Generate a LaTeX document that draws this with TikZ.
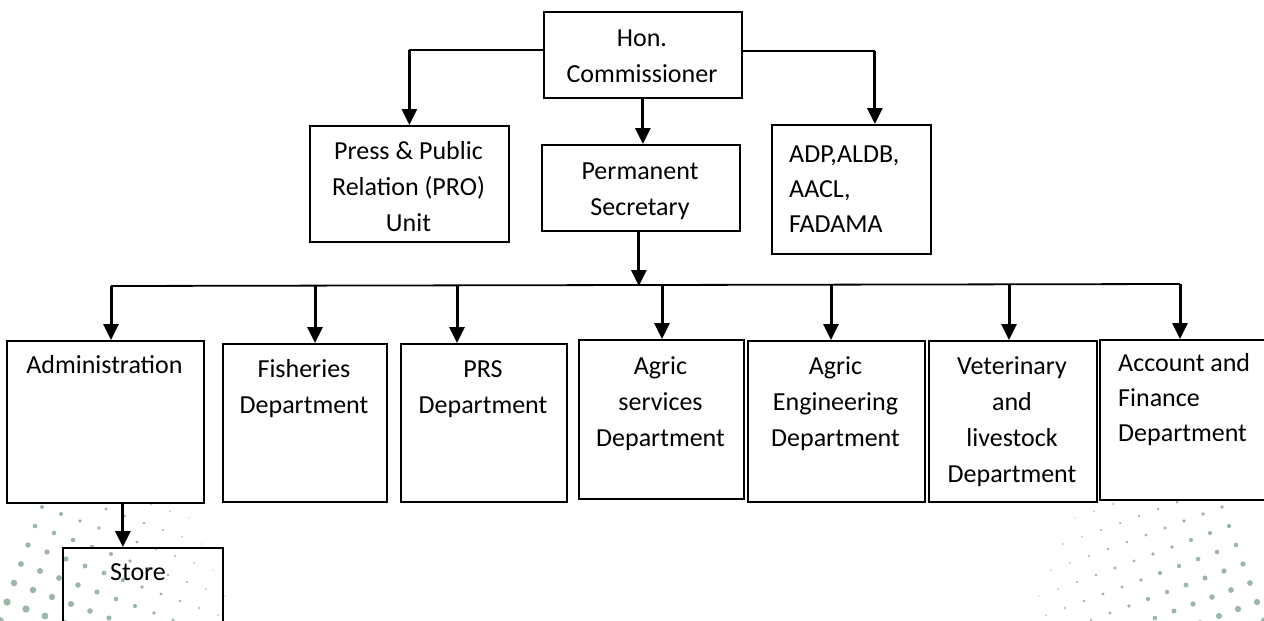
\documentclass[tikz,border=0pt]{standalone}
\usepackage{fontspec}
\setmainfont{Carlito}
\usetikzlibrary{arrows.meta}
\definecolor{dotc}{HTML}{9DB7A6}
\begin{document}
\begin{tikzpicture}[x=1pt,y=-1pt,
  box/.style={draw, fill=white, line width=1.8pt, inner sep=0pt, anchor=north west},
  txt/.style={inner sep=0pt, anchor=north, align=center, font=\fontsize{26}{36}\selectfont},
  ltxt/.style={inner sep=0pt, anchor=north west, align=left, font=\fontsize{26}{35}\selectfont},
  conn/.style={line width=1.8pt},
  arr/.style={line width=3pt, -{Triangle[width=15pt,length=16pt]}},
]
\useasboundingbox (0,0) rectangle (1264,621);
\clip (0,0) rectangle (1264,621);
\fill[white] (0,0) rectangle (1264,621);

% decorative dots, bottom left
\foreach \i in {0,...,20} {
  \foreach \j in {-12,...,4} {
    \pgfmathsetmacro\px{\i*19 - \j*7}
    \pgfmathsetmacro\py{621 + \i*7 + \j*19}
    \pgfmathsetmacro\rr{4.4 - veclen(\px,650-\py)/62}
    \ifdim\rr pt>0.6pt \fill[dotc] (\px,\py) circle[radius=\rr pt]; \fi
  }
}
% decorative dots, bottom right
\foreach \i in {0,...,16} {
  \foreach \j in {-4,...,12} {
    \pgfmathsetmacro\px{1264 - \i*19 - \j*7}
    \pgfmathsetmacro\py{621 + \i*7 - \j*19}
    \pgfmathsetmacro\rr{3.8 - veclen(1264-\px,650-\py)/75}
    \ifdim\rr pt>0.6pt \fill[dotc] (\px,\py) circle[radius=\rr pt]; \fi
  }
}

% boxes
\node[box, minimum width=198pt, minimum height=86pt]  (hc)    at (543,11)  {};
\node[box, minimum width=199pt, minimum height=116pt] (press) at (309,125) {};
\node[box, minimum width=198pt, minimum height=86pt]  (ps)    at (541,144) {};
\node[box, minimum width=159pt, minimum height=129pt] (adp)   at (771,124) {};
\node[box, minimum width=197pt, minimum height=162pt] (admin) at (6,340)   {};
\node[box, minimum width=164pt, minimum height=158pt] (fish)  at (222,343) {};
\node[box, minimum width=166pt, minimum height=158pt] (prs)   at (400,343) {};
\node[box, minimum width=165pt, minimum height=159pt] (ags)   at (578,339) {};
\node[box, minimum width=177pt, minimum height=161pt] (age)   at (747,340) {};
\node[box, minimum width=168pt, minimum height=161pt] (vet)   at (928,340) {};
\node[box, minimum width=175pt, minimum height=160pt] (acc)   at (1099,339) {};
\node[box, fill=none, minimum width=160pt, minimum height=95pt]  (store) at (62,547)  {};

% texts
\node[txt] (hct)    at (642,11+10)   {\strut Hon.\\Commissioner};
\node[txt] (presst) at (408.5,125+9) {\strut Press \& Public\\Relation (PRO)\\Unit};
\node[txt] (pst)    at (640,144+10)  {\strut Permanent\\Secretary};
\node[ltxt] (adpt)  at (789,124+14)  {\strut ADP,ALDB,\\AACL,\\FADAMA};
\node[txt] (admint) at (104.5,340+8) {\strut Administration};
\node[txt] (fisht)  at (304,343+9)   {\strut Fisheries\\Department};
\node[txt] (prst)   at (483,343+9)   {\strut PRS\\Department};
\node[txt] (agst)   at (660.5,339+10){\strut Agric\\services\\Department};
\node[txt] (aget)   at (835.5,340+9) {\strut Agric\\Engineering\\Department};
\node[txt] (vett)   at (1012,340+9)  {\strut Veterinary\\and\\livestock\\Department};
\node[ltxt] (acct)  at (1118,339+8)  {\strut Account and\\Finance\\Department};
\node[txt] (storet) at (138,547+8)   {\strut Store};

% connectors from commissioner
\draw[conn] ([yshift=5pt]hc.west) -- ([yshift=5pt]hc.west -| press.north) coordinate (pl);
\draw[arr] (pl) -- (press.north);
\draw[conn] ([yshift=4pt]hc.east) -- ([yshift=4pt,xshift=23.5pt]hc.east -| adp.north) coordinate (pr);
\draw[arr] (pr) -- (pr |- adp.north);
\draw[arr] (hc.south) -- (hc.south |- ps.north);

% bus
\coordinate (busL) at (111,286);
\coordinate (busR) at (1180,284);
\draw[conn] (busL) -- (busR);
\draw[arr] ([xshift=-2pt]ps.south) -- ([xshift=-2pt]ps.south |- busL);

\coordinate (tF) at (315,285.5);
\coordinate (tP) at (457,285.5);
\coordinate (tS) at (662,285);
\coordinate (tE) at (831,284.7);
\coordinate (tV) at (1009,284.3);
\draw[arr] (busL) -- (busL |- admin.north);
\draw[arr] (tF) -- (tF |- fish.north);
\draw[arr] (tP) -- (tP |- prs.north);
\draw[arr] (tS) -- (tS |- ags.north);
\draw[arr] (tE) -- (tE |- age.north);
\draw[arr] (tV) -- (tV |- vet.north);
\draw[arr] (busR) -- (busR |- acc.north);

% store
\draw[arr] ([xshift=17.5pt]admin.south) -- ([xshift=17.5pt]admin.south |- store.north);
\end{tikzpicture}
\end{document}
